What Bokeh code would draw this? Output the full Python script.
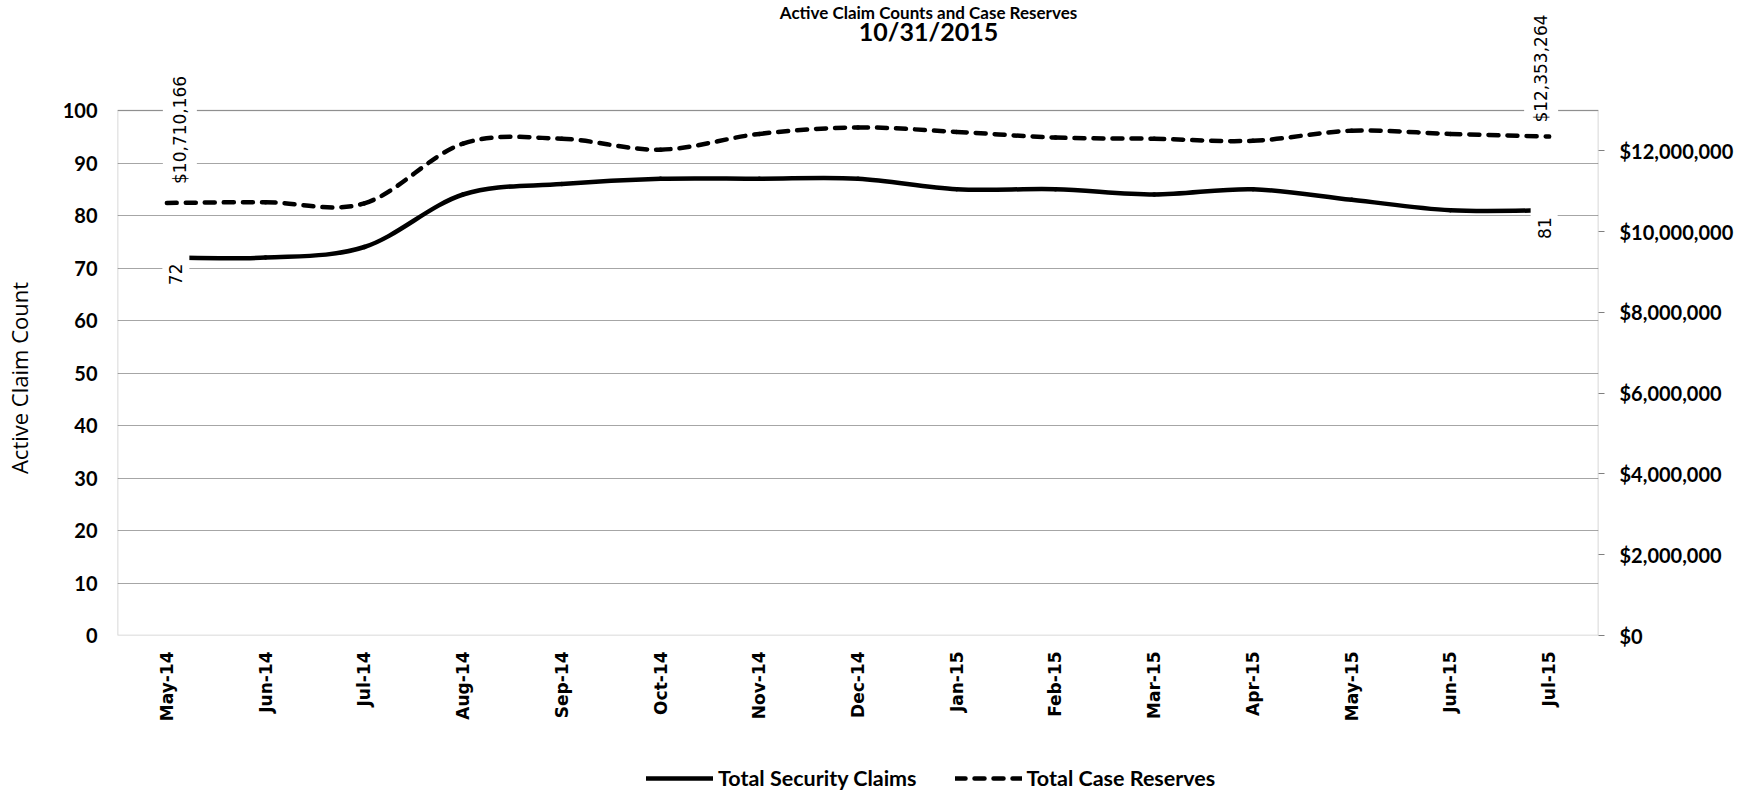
import math
from bokeh.plotting import figure
from bokeh.layouts import column
from bokeh.models import (Range1d, LinearAxis, FixedTicker, NumeralTickFormatter,
                          ColumnDataSource, Legend, LegendItem, Label, BoxAnnotation)
from bokeh.core.properties import value
from bokeh.embed import file_html
from bokeh.resources import INLINE

# ---------------- data ----------------
months = ["May-14", "Jun-14", "Jul-14", "Aug-14", "Sep-14", "Oct-14", "Nov-14", "Dec-14",
          "Jan-15", "Feb-15", "Mar-15", "Apr-15", "May-15", "Jun-15", "Jul-15"]
claims = [72, 72, 74, 84, 86, 87, 87, 87, 85, 85, 84, 85, 83, 81, 81]
reserves = [10710166, 10730000, 10700000, 12180000, 12300000, 12030000, 12420000, 12580000,
            12470000, 12330000, 12300000, 12250000, 12500000, 12420000, 12353264]
left_ticks = [0, 10, 20, 30, 40, 50, 60, 70, 80, 90, 100]
right_ticks = [0, 2000000, 4000000, 6000000, 8000000, 10000000, 12000000]
right_max = 13000000
title_lines = ["Active Claim Counts and Case Reserves", "10/31/2015"]
series_names = ["Total Security Claims", "Total Case Reserves"]
y_title = "Active Claim Count"

# ---------------- layout constants ----------------
W, H = 1750, 794
H_LEG = 49                            # strip holding the legend
H_MAIN = H - H_LEG
BORDER_L, BORDER_R, BORDER_B = 113, 152, 110
PLOT_TOP = 110                        # canvas y of the top of the plot area
FRAME_H = H_MAIN - BORDER_B           # frame spans the whole height above the x axis
AREA_H = FRAME_H - PLOT_TOP
ext = FRAME_H / AREA_H                # range extension so the area top sits at PLOT_TOP

p = figure(width=W, height=H_MAIN, output_backend="svg", toolbar_location=None,
           x_range=Range1d(-0.5, len(months) - 0.5),
           y_range=Range1d(0, left_ticks[-1] * ext),
           min_border_left=BORDER_L, min_border_right=BORDER_R, min_border_top=0,
           min_border_bottom=BORDER_B, background_fill_color="white",
           border_fill_color="white")
p.extra_y_ranges = {"res": Range1d(0, right_max * ext)}
p.outline_line_color = None

p.xgrid.visible = False
p.ygrid.ticker = FixedTicker(ticks=left_ticks)
p.ygrid.grid_line_color = "#a6a6a6"
p.ygrid.grid_line_width = 1.2

# plot-area border
p.add_layout(BoxAnnotation(left=-0.5, right=len(months) - 0.5, bottom=left_ticks[0],
                           top=left_ticks[-1], fill_alpha=0, fill_color=None,
                           line_color="#5a5a5a", line_width=1.6, level="underlay"))

# left axis
ya = p.yaxis[0]
ya.ticker = FixedTicker(ticks=left_ticks)
ya.bounds = (left_ticks[0], left_ticks[-1])
ya.major_tick_line_color = None
ya.major_tick_out = 0
ya.major_tick_in = 0
ya.minor_tick_line_color = None
ya.axis_line_color = None
ya.major_label_standoff = 20
ya.major_label_text_font = "Lato"
ya.major_label_text_font_style = "bold"
ya.major_label_text_font_size = "20px"
ya.major_label_text_color = "black"
# the axis title is centred on the full frame; trailing no-break spaces move the
# visible words down to the middle of the plot area, as in the original
ya.axis_label = y_title + "\u00a0" * 21
ya.axis_label_text_font = "Open Sans"
ya.axis_label_text_font_style = "normal"
ya.axis_label_text_font_size = "22px"
ya.axis_label_text_color = "black"
ya.axis_label_standoff = 26

# right axis
ra = LinearAxis(y_range_name="res", ticker=FixedTicker(ticks=right_ticks),
                formatter=NumeralTickFormatter(format="$0,0"))
ra.bounds = (0, right_max)
ra.major_tick_out = 6
ra.major_tick_in = 0
ra.major_tick_line_color = "#7f7f7f"
ra.minor_tick_line_color = None
ra.axis_line_color = None
ra.major_label_standoff = 15
ra.major_label_text_font = "Lato"
ra.major_label_text_font_style = "bold"
ra.major_label_text_font_size = "20px"
ra.major_label_text_color = "black"
p.add_layout(ra, "right")

# bottom axis
xa = p.xaxis[0]
xa.ticker = FixedTicker(ticks=list(range(len(months))))
xa.major_label_overrides = {i: m for i, m in enumerate(months)}
xa.major_label_orientation = math.pi / 2
xa.major_tick_line_color = None
xa.major_tick_out = 0
xa.major_tick_in = 0
xa.minor_tick_line_color = None
xa.axis_line_color = None
xa.major_label_standoff = 16
xa.major_label_text_font = "DejaVu Sans"
xa.major_label_text_font_style = "bold"
xa.major_label_text_font_size = "17px"
xa.major_label_text_color = "black"


# ---------------- smoothed lines (Bezier segments from data) ----------------
def smooth_segments(xs, ys, t=1.0 / 6.0):
    n = len(xs)
    d = dict(x0=[], y0=[], x1=[], y1=[], cx0=[], cy0=[], cx1=[], cy1=[])
    for i in range(n - 1):
        ip = max(i - 1, 0)
        inx = min(i + 2, n - 1)
        d["x0"].append(xs[i]); d["y0"].append(ys[i])
        d["x1"].append(xs[i + 1]); d["y1"].append(ys[i + 1])
        d["cx0"].append(xs[i] + (xs[i + 1] - xs[ip]) * t)
        d["cy0"].append(ys[i] + (ys[i + 1] - ys[ip]) * t)
        d["cx1"].append(xs[i + 1] - (xs[inx] - xs[i]) * t)
        d["cy1"].append(ys[i + 1] - (ys[inx] - ys[i]) * t)
    return d


SOLID = dict(line_color="black", line_width=4.5, line_cap="round")
DASHED = dict(line_color="black", line_width=4.5, line_dash="10 9", line_cap="round")

xidx = list(range(len(months)))
src_c = ColumnDataSource(smooth_segments(xidx, claims))
src_r = ColumnDataSource(smooth_segments(xidx, reserves))

p.bezier(x0="x0", y0="y0", x1="x1", y1="y1", cx0="cx0", cy0="cy0",
         cx1="cx1", cy1="cy1", source=src_c, **SOLID)
p.bezier(x0="x0", y0="y0", x1="x1", y1="y1", cx0="cx0", cy0="cy0",
         cx1="cx1", cy1="cy1", source=src_r, y_range_name="res", **DASHED)

# ---------------- data labels ----------------
lab_font = dict(text_font=value("DejaVu Sans"), text_font_size="17px",
                text_color="black", angle=math.pi / 2,
                background_fill_color="white", padding=(11, 7),
                text_baseline="middle")

first, last = 0, len(months) - 1
p.text(x=[first], y=[reserves[first]], text=["${:,}".format(reserves[first])],
       text_align="left", x_offset=13, y_offset=-8, y_range_name="res", **lab_font)
p.text(x=[first], y=[claims[first]], text=[str(claims[first])],
       text_align="right", x_offset=9, y_offset=-5, **lab_font)
p.text(x=[last], y=[reserves[last]], text=["${:,}".format(reserves[last])],
       text_align="left", x_offset=-8, y_offset=-3, y_range_name="res", **lab_font)
p.text(x=[last], y=[claims[last]], text=[str(claims[last])],
       text_align="right", x_offset=-5, y_offset=-4, **lab_font)

# ---------------- titles ----------------
TITLE_X = 811
p.add_layout(Label(x=TITLE_X, y=FRAME_H - 12, x_units="screen", y_units="screen",
                   text=title_lines[0], text_align="center", text_baseline="alphabetic",
                   text_font="Lato", text_font_style="bold", text_font_size="17px",
                   text_color="black"))
p.add_layout(Label(x=TITLE_X, y=FRAME_H - 30, x_units="screen", y_units="screen",
                   text=title_lines[1], text_align="center", text_baseline="alphabetic",
                   text_font="Lato", text_font_style="bold", text_font_size="25px",
                   text_color="black"))

# ---------------- legend strip ----------------
leg = figure(width=W, height=H_LEG, output_backend="svg", toolbar_location=None,
             x_range=Range1d(-100, -99), y_range=Range1d(-100, -99), x_axis_type=None,
             y_axis_type=None, min_border=0, outline_line_color=None,
             background_fill_color="white", border_fill_color="white")
leg.grid.visible = False
# legend proxies: same series, kept outside this strip's visible ranges
lr1 = leg.line(x=xidx, y=claims, **SOLID)
lr2 = leg.line(x=xidx, y=reserves, **DASHED)
legend = Legend(items=[LegendItem(label=series_names[0], renderers=[lr1]),
                       LegendItem(label=series_names[1], renderers=[lr2])],
                orientation="horizontal", location=(529, 3),
                glyph_width=67, glyph_height=20, label_height=20, label_standoff=5,
                spacing=38, padding=0, margin=0, border_line_color=None,
                background_fill_alpha=0, label_text_font="Lato",
                label_text_font_style="bold", label_text_font_size="21.5px",
                label_text_color="black")
leg.add_layout(legend)

layout = column(p, leg, spacing=0)
open("out.html", "w").write(file_html(layout, INLINE))
